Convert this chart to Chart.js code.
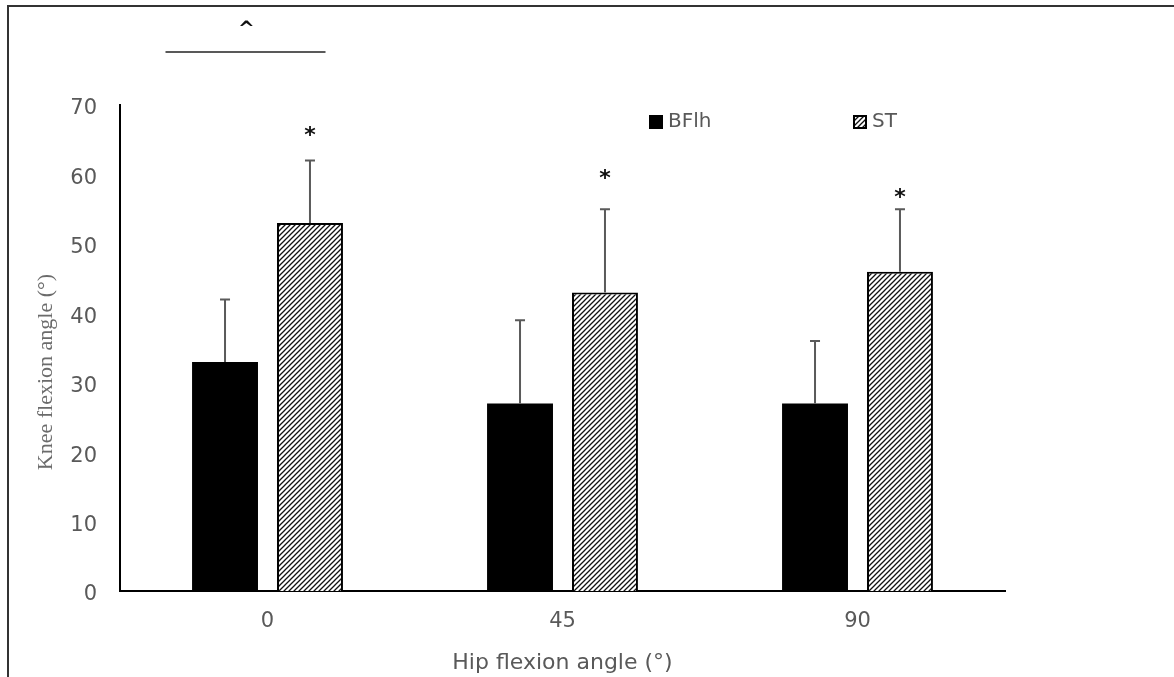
<!DOCTYPE html>
<html>
<head>
<meta charset="utf-8">
<title>Knee flexion angle by hip flexion angle</title>
<script src="https://cdn.jsdelivr.net/npm/chart.js@4.4.0/dist/chart.umd.min.js"></script>
<style>
  html, body { margin: 0; padding: 0; background: #fff; }
  #wrap { width: 1174px; height: 677px; }
</style>
</head>
<body>
<div id="wrap"><canvas id="kneeChart" width="1174" height="677"></canvas></div>
<script>
// data
const categories = ['0', '45', '90'];
const bflhMeans = [33, 27, 27];
const stMeans = [53, 43, 46];
const bflhSD = [9, 12, 9];
const stSD = [9, 12, 9];
const starLevels = [66.5, 60.3, 57.6]; // height of the * above each ST bar (axis units)
const yMin = 0, yMax = 70, yStep = 10;

const canvas = document.getElementById('kneeChart');
const ctx = canvas.getContext('2d');

// diagonal hatch used for the ST bars
function makeHatch() {
    const c = document.createElement('canvas');
    c.width = 5; c.height = 5;
    const g = c.getContext('2d');
    g.fillStyle = '#fff';
    g.fillRect(0, 0, 5, 5);
    g.strokeStyle = '#111';
    g.lineWidth = 1.3;
    g.beginPath();
    g.moveTo(0, 5); g.lineTo(5, 0);
    g.moveTo(-1, 1); g.lineTo(1, -1);
    g.moveTo(4, 6); g.lineTo(6, 4);
    g.stroke();
    return ctx.createPattern(c, 'repeat');
}
const hatch = makeHatch();

const grey = '#595959';
const tickFont = { family: 'DejaVu Sans', size: 21 };

// error bars, significance marks, legend, frame and y title
const extras = {
    id: 'extras',
    beforeDraw(chart) {
        const c = chart.ctx;
        c.save();
        c.strokeStyle = '#333';
        c.lineWidth = 2;
        c.beginPath();
        c.moveTo(8, chart.height);
        c.lineTo(8, 6);
        c.lineTo(chart.width, 6);
        c.stroke();
        c.restore();
    },
    afterDatasetsDraw(chart) {
        const c = chart.ctx;
        const y = chart.scales.y;
        const sds = [bflhSD, stSD];
        c.save();
        c.strokeStyle = '#5a5a5a';
        c.lineWidth = 2;
        chart.data.datasets.forEach((ds, di) => {
            chart.getDatasetMeta(di).data.forEach((bar, i) => {
                const top = y.getPixelForValue(ds.data[i] + sds[di][i]);
                c.beginPath();
                c.moveTo(bar.x, bar.y);
                c.lineTo(bar.x, top);
                c.moveTo(bar.x - 5, top);
                c.lineTo(bar.x + 5, top);
                c.stroke();
            });
        });
        // asterisks over ST
        c.fillStyle = '#111';
        c.font = 'bold 22px "DejaVu Sans"';
        c.textAlign = 'center';
        c.textBaseline = 'alphabetic';
        chart.getDatasetMeta(1).data.forEach((bar, i) => {
            c.fillText('*', bar.x, y.getPixelForValue(starLevels[i]) + 13);
        });
        c.restore();
    },
    afterDraw(chart) {
        const c = chart.ctx;
        const area = chart.chartArea;
        const x0 = chart.scales.x.getPixelForValue(0);
        c.save();
        // ^ marker and bar over the 0 group
        c.fillStyle = '#111';
        c.font = 'bold 20px "DejaVu Sans"';
        c.textAlign = 'center';
        c.textBaseline = 'alphabetic';
        c.fillText('^', x0 - 21, area.top - 70);
        c.strokeStyle = '#222';
        c.lineWidth = 1.5;
        c.beginPath();
        c.moveTo(x0 - 102, area.top - 53);
        c.lineTo(x0 + 58, area.top - 53);
        c.stroke();

        // legend
        const ly = area.top + 17;
        c.fillStyle = '#000';
        c.fillRect(area.left + 529, ly - 7, 14, 14);
        c.fillStyle = hatch;
        c.fillRect(area.left + 733, ly - 7, 14, 14);
        c.strokeStyle = '#000';
        c.lineWidth = 2;
        c.strokeRect(area.left + 734, ly - 6, 12, 12);
        c.fillStyle = grey;
        c.font = '20px "DejaVu Sans"';
        c.textAlign = 'left';
        c.textBaseline = 'middle';
        c.fillText(chart.data.datasets[0].label, area.left + 548, ly);
        c.fillText(chart.data.datasets[1].label, area.left + 752, ly);

        // y axis title
        c.translate(46, (area.top + area.bottom) / 2 + 24);
        c.rotate(-Math.PI / 2);
        c.fillStyle = '#6b6b6b';
        c.font = '22px "Liberation Serif"';
        c.textAlign = 'center';
        c.textBaseline = 'middle';
        c.fillText('Knee flexion angle (°)', 0, 0);
        c.restore();
    }
};

new Chart(ctx, {
    type: 'bar',
    data: {
        labels: categories,
        datasets: [
            {
                label: 'BFlh',
                data: bflhMeans,
                backgroundColor: '#000',
                borderColor: '#000',
                borderWidth: 0,
                barPercentage: 0.776,
                categoryPercentage: 0.576
            },
            {
                label: 'ST',
                data: stMeans,
                backgroundColor: hatch,
                borderColor: '#000',
                borderWidth: 2,
                barPercentage: 0.776,
                categoryPercentage: 0.576
            }
        ]
    },
    options: {
        responsive: false,
        animation: false,
        layout: { padding: { left: 0, top: 105, right: 169, bottom: 0 } },
        plugins: {
            legend: { display: false },
            tooltip: { enabled: false }
        },
        scales: {
            x: {
                grid: { display: false, drawTicks: false },
                border: { display: true, color: '#000', width: 2 },
                ticks: { color: grey, font: tickFont, padding: 18 },
                title: {
                    display: true,
                    text: 'Hip flexion angle (°)',
                    color: grey,
                    font: { family: 'DejaVu Sans', size: 22 },
                    padding: { top: 0, bottom: 1 }
                },
                afterFit(scale) { scale.height = 86; }
            },
            y: {
                min: yMin,
                max: yMax,
                grid: { display: false, drawTicks: false },
                border: { display: true, color: '#000', width: 2 },
                ticks: { stepSize: yStep, color: grey, font: tickFont, padding: 23, labelOffset: 4 },
                afterFit(scale) { scale.width = 120; }
            }
        }
    },
    plugins: [extras]
});
</script>
</body>
</html>
